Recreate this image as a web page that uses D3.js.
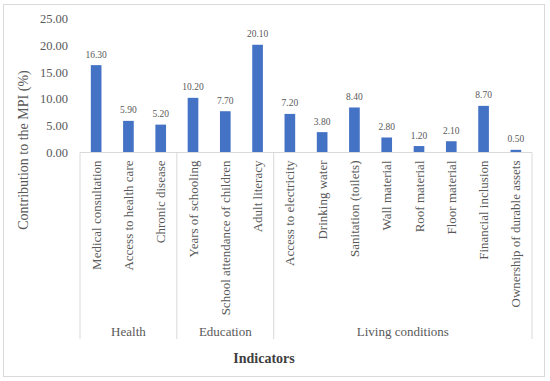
<!DOCTYPE html>
<html>
<head>
<meta charset="utf-8">
<script src="https://cdn.jsdelivr.net/npm/d3@7"></script>
<style>
    body { margin: 0; background: #fff; }
    svg text { font-family: "Liberation Serif", "DejaVu Serif", serif; fill: #595959; }
</style>
</head>
<body>
<script>
var width = 550,
    height = 381;

// indicators and their contribution to the MPI (%)
var indicators = ["Medical consultation", "Access to health care", "Chronic disease",
    "Years of schooling", "School attendance of children", "Adult literacy",
    "Access to electricity", "Drinking water", "Sanitation (toilets)", "Wall material",
    "Roof material", "Floor material", "Financial inclusion", "Ownership of durable assets"];
var contributions = [16.3, 5.9, 5.2, 10.2, 7.7, 20.1, 7.2, 3.8, 8.4, 2.8, 1.2, 2.1, 8.7, 0.5];
var groupNames = ["Health", "Education", "Living conditions"];
var groupSizes = [3, 3, 8];
var yTicks = [0, 5, 10, 15, 20, 25];

var margin = { left: 80, right: 18, top: 18.5, bottom: 228.5 };

var svg = d3.select("body").append("svg")
    .attr("width", width)
    .attr("height", height);

// outer frame
svg.append("rect")
    .attr("x", 3.5)
    .attr("y", 4.5)
    .attr("width", 541)
    .attr("height", 372)
    .style("fill", "none")
    .style("stroke", "#d9d9d9");

var x = d3.scaleBand()
    .domain(indicators)
    .range([margin.left, width - margin.right])
    .paddingInner(0.67)
    .paddingOuter(0.335);

var y = d3.scaleLinear()
    .domain([0, 25])
    .range([height - margin.bottom, margin.top]);

var base = y(0);

// y axis labels (no axis line in the original)
svg.append("g")
    .attr("transform", "translate(" + (margin.left - 9) + ",0)")
    .call(d3.axisLeft(y).tickValues(yTicks).tickSize(0).tickFormat(d3.format(".2f")))
    .call(function(g) { g.select(".domain").remove(); })
    .selectAll("text")
    .style("font-size", "12.5px")
    .style("font-family", "Liberation Serif, serif")
    .attr("fill", "#595959");

// bars
svg.selectAll("rect.bar")
    .data(contributions)
    .enter().append("rect")
    .attr("class", "bar")
    .attr("x", function(d, i) { return x(indicators[i]); })
    .attr("y", function(d) { return y(d); })
    .attr("width", x.bandwidth())
    .attr("height", function(d) { return base - y(d); })
    .style("fill", "#4472c4");

// value labels
svg.selectAll("text.val")
    .data(contributions)
    .enter().append("text")
    .attr("class", "val")
    .attr("x", function(d, i) { return x(indicators[i]) + x.bandwidth() / 2; })
    .attr("y", function(d) { return y(d) - 7.5; })
    .attr("text-anchor", "middle")
    .style("font-size", "9.5px")
    .text(function(d) { return d.toFixed(2); });

// category axis line
svg.append("line")
    .attr("x1", margin.left)
    .attr("x2", width - margin.right)
    .attr("y1", base)
    .attr("y2", base)
    .style("stroke", "#d9d9d9");

// category labels, rotated
svg.selectAll("text.cat")
    .data(indicators)
    .enter().append("text")
    .attr("class", "cat")
    .attr("transform", function(d) {
        return "translate(" + (x(d) + x.bandwidth() / 2 + 4.5) + "," + (base + 8) + ") rotate(-90)";
    })
    .attr("text-anchor", "end")
    .style("font-size", "13px")
    .text(function(d) { return d; });

// group separators and group labels
var step = x.step();
var start = margin.left;
var bounds = [start];
groupSizes.forEach(function(n) {
    start += n * step;
    bounds.push(start);
});

svg.selectAll("line.sep")
    .data(bounds)
    .enter().append("line")
    .attr("class", "sep")
    .attr("x1", function(d) { return d; })
    .attr("x2", function(d) { return d; })
    .attr("y1", base)
    .attr("y2", 339)
    .style("stroke", "#d9d9d9");

svg.selectAll("text.grp")
    .data(groupNames)
    .enter().append("text")
    .attr("class", "grp")
    .attr("x", function(d, i) { return (bounds[i] + bounds[i + 1]) / 2; })
    .attr("y", 336)
    .attr("text-anchor", "middle")
    .style("font-size", "13px")
    .text(function(d) { return d; });

// axis titles
svg.append("text")
    .attr("x", 264)
    .attr("y", 363)
    .attr("text-anchor", "middle")
    .style("font-size", "14px")
    .style("font-weight", "bold")
    .style("fill", "#404040")
    .text("Indicators");

svg.append("text")
    .attr("transform", "translate(28,150) rotate(-90)")
    .attr("text-anchor", "middle")
    .style("font-size", "14px")
    .text("Contribution to the MPI (%)");
</script>
</body>
</html>
